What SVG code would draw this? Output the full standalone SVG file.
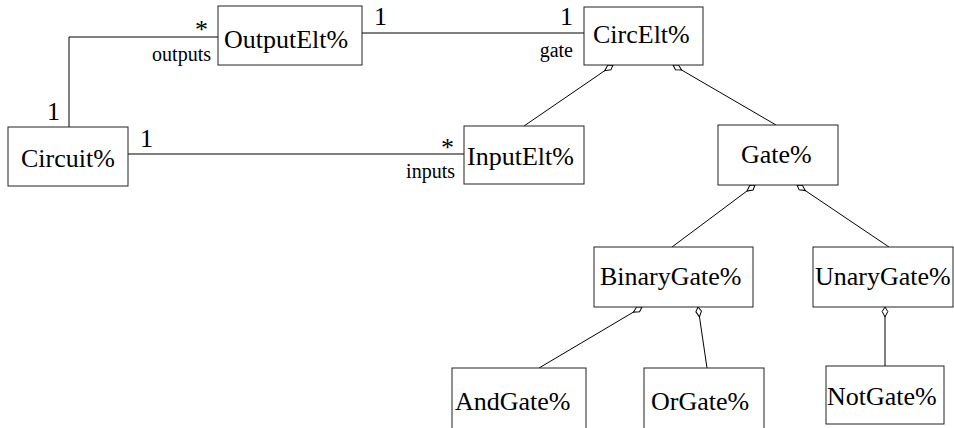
<svg xmlns="http://www.w3.org/2000/svg" width="954" height="428" viewBox="0 0 954 428">
  <style>
    .box { fill: #fff; stroke: #222; stroke-width: 1; }
    text { font-family: "Liberation Serif", Tinos, "Times New Roman", Times, "DejaVu Serif", serif; fill: #000; }
    .name { font-size: 26px; }
    .mult { font-size: 26px; }
    .role { font-size: 20px; text-anchor: end; }
    .edge { fill: none; stroke: #000; stroke-width: 1; }
    .gen { fill: none; stroke: #000; stroke-width: 1; marker-end: url(#inherit); }
  </style>
  <defs>
    <!-- small hollow diamond-shaped head at the superclass end -->
    <marker id="inherit" viewBox="-11 -4 12 8" refX="0" refY="0" markerWidth="12" markerHeight="8" markerUnits="userSpaceOnUse" orient="auto">
      <path d="M0,0 L-4.5,-2.8 L-10,0 L-4.5,2.8 Z" fill="#fff" stroke="#000" stroke-width="1"/>
    </marker>
  </defs>
  <rect width="954" height="428" fill="#fff"/>

  <g id="connectors">
    <polyline class="edge" points="69,127 69,37 218,37"/>
    <line class="edge" x1="362" y1="33" x2="584" y2="33"/>
    <line class="edge" x1="128" y1="154" x2="464" y2="154"/>
    <line class="gen" x1="524" y1="126" x2="613" y2="65"/>
    <line class="gen" x1="776" y1="125" x2="673" y2="65"/>
    <line class="gen" x1="672" y1="247" x2="755" y2="185"/>
    <line class="gen" x1="889" y1="247" x2="797" y2="185"/>
    <line class="gen" x1="539" y1="368" x2="642" y2="307"/>
    <line class="gen" x1="707" y1="368" x2="698" y2="307"/>
    <line class="gen" x1="885" y1="366" x2="885" y2="307"/>
  </g>

  <g id="labels">
    <text class="mult" x="195" y="38">*</text>
    <text class="role" x="211" y="61">outputs</text>
    <text class="mult" x="47" y="120">1</text>
    <text class="mult" x="140" y="147">1</text>
    <text class="mult" x="374" y="25">1</text>
    <text class="mult" x="560" y="25">1</text>
    <text class="role" x="573" y="57">gate</text>
    <text class="mult" x="441" y="156">*</text>
    <text class="role" x="455" y="178">inputs</text>
  </g>

  <g id="OutputElt">
    <rect class="box" x="218" y="6" width="144" height="59"/>
    <text class="name" x="224" y="48">OutputElt%</text>
  </g>
  <g id="Circuit">
    <rect class="box" x="8" y="127" width="120" height="59"/>
    <text class="name" x="21" y="167">Circuit%</text>
  </g>
  <g id="CircElt">
    <rect class="box" x="584" y="7" width="119" height="58"/>
    <text class="name" x="593" y="43">CircElt%</text>
  </g>
  <g id="InputElt">
    <rect class="box" x="464" y="126" width="120" height="58"/>
    <text class="name" x="467" y="165">InputElt%</text>
  </g>
  <g id="Gate">
    <rect class="box" x="718" y="125" width="120" height="60"/>
    <text class="name" x="741" y="163">Gate%</text>
  </g>
  <g id="BinaryGate">
    <rect class="box" x="594" y="247" width="159" height="60"/>
    <text class="name" x="600" y="285">BinaryGate%</text>
  </g>
  <g id="UnaryGate">
    <rect class="box" x="813" y="247" width="140" height="60"/>
    <text class="name" x="815" y="285">UnaryGate%</text>
  </g>
  <g id="AndGate">
    <rect class="box" x="452" y="368" width="134" height="70"/>
    <text class="name" x="455" y="410">AndGate%</text>
  </g>
  <g id="OrGate">
    <rect class="box" x="644" y="368" width="120" height="70"/>
    <text class="name" x="651" y="410">OrGate%</text>
  </g>
  <g id="NotGate">
    <rect class="box" x="826" y="366" width="118" height="58"/>
    <text class="name" x="827" y="405">NotGate%</text>
  </g>
</svg>
